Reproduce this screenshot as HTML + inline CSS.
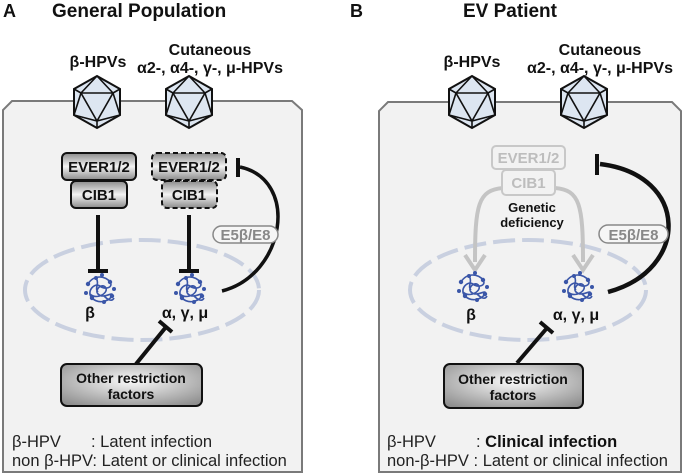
<!DOCTYPE html>
<html><head><meta charset="utf-8"><style>
html,body{margin:0;padding:0;background:#fff;}
svg{display:block;font-family:"Liberation Sans",Arial,sans-serif;}
</style></head><body>
<svg width="685" height="474" viewBox="0 0 685 474" xmlns="http://www.w3.org/2000/svg">
<defs>
<linearGradient id="g" x1="0" y1="0" x2="0" y2="1"><stop offset="0" stop-color="#8a8a8a"/><stop offset="0.5" stop-color="#f4f4f4"/><stop offset="1" stop-color="#8a8a8a"/></linearGradient>
<radialGradient id="rg" cx="0.5" cy="0.4" r="0.7"><stop offset="0" stop-color="#fafafa"/><stop offset="1" stop-color="#8f8f8f"/></radialGradient>
<g id="vir">
<polygon points="0,-26 23,-13 23,13 0,26 -23,13 -23,-13" fill="#dde6f1" stroke="#111" stroke-width="2"/>
<path d="M-16,-9 L16,-9 L0,19 Z M0,-26 L-16,-9 M0,-26 L16,-9 M-16,-9 L-23,-13 M-16,-9 L-23,13 M16,-9 L23,-13 M16,-9 L23,13 M0,19 L0,26 M0,19 L-23,13 M0,19 L23,13" fill="none" stroke="#111" stroke-width="1.6"/>
</g>
<g id="dna" fill="none" stroke="#3a56a8" stroke-width="1.6">
<path d="M-12,-6 C-6,-16 6,-14 10,-8 C14,-2 4,0 0,-4 C-6,-8 -14,2 -8,8 C-2,14 8,12 12,6 C14,0 4,10 -2,4 C-6,0 2,-8 6,-2 C8,4 -4,10 -10,4 M-4,-12 C0,-6 -6,-2 -2,2 M4,6 C8,10 12,12 14,8"/>
<g fill="#3a56a8" stroke="none"><circle cx="-12" cy="-6" r="2.2"/><circle cx="10" cy="-8" r="2.2"/><circle cx="-8" cy="8" r="2.2"/><circle cx="12" cy="6" r="2.2"/><circle cx="-4" cy="-12" r="2"/><circle cx="4" cy="12" r="2"/><circle cx="-14" cy="3" r="2"/><circle cx="14" cy="-1" r="2"/><circle cx="2" cy="-15" r="2"/></g>
</g>
</defs>

<!-- Panel A -->
<text x="3" y="17" font-size="18" font-weight="bold" fill="#111">A</text>
<text x="52" y="17" font-size="19" font-weight="bold" fill="#111">General Population</text>
<path d="M12,101 L292,101 L302,110 L302,472 L3,472 L3,110 Z" fill="#f2f2f2" stroke="#7a7a7a" stroke-width="2"/>
<text x="98" y="67" font-size="16" font-weight="bold" text-anchor="middle" fill="#111">β-HPVs</text>
<text x="210" y="55" font-size="16" font-weight="bold" text-anchor="middle" fill="#111">Cutaneous</text>
<text x="210" y="73" font-size="16" font-weight="bold" text-anchor="middle" fill="#111">α2-, α4-, γ-, μ-HPVs</text>
<use href="#vir" x="97" y="102"/>
<use href="#vir" x="189" y="102"/>

<rect x="62" y="153" width="74" height="27" rx="5" fill="url(#g)" stroke="#111" stroke-width="2"/>
<text x="99" y="172" font-size="15" font-weight="bold" text-anchor="middle" fill="#111">EVER1/2</text>
<rect x="71" y="181" width="56" height="27" rx="5" fill="url(#g)" stroke="#111" stroke-width="2"/>
<text x="99" y="200" font-size="15" font-weight="bold" text-anchor="middle" fill="#111">CIB1</text>
<rect x="152" y="153" width="74" height="27" rx="5" fill="url(#g)" stroke="#111" stroke-width="2" stroke-dasharray="5,3"/>
<text x="189" y="172" font-size="15" font-weight="bold" text-anchor="middle" fill="#111">EVER1/2</text>
<rect x="162" y="181" width="55" height="27" rx="5" fill="url(#g)" stroke="#111" stroke-width="2" stroke-dasharray="5,3"/>
<text x="189" y="200" font-size="15" font-weight="bold" text-anchor="middle" fill="#111">CIB1</text>

<ellipse cx="142" cy="290" rx="117" ry="50" fill="none" stroke="#c9d0e0" stroke-width="4" stroke-dasharray="22,7"/>
<path d="M98,215 V271 M88,271 H108 M189,215 V271 M179,271 H199" stroke="#111" stroke-width="4"/>
<path d="M222,291 C285,275 300,180 240,167" fill="none" stroke="#111" stroke-width="3.5"/>
<path d="M238,158 V177" stroke="#111" stroke-width="4"/>
<rect x="213" y="226" width="65" height="17" rx="8.5" fill="#f6f6f6" stroke="#888" stroke-width="1.5"/>
<text x="245.5" y="240" font-size="15" font-weight="bold" text-anchor="middle" fill="#888">E5β/E8</text>
<use href="#dna" x="100" y="290"/>
<use href="#dna" x="190" y="290"/>
<text x="90" y="318" font-size="16" font-weight="bold" text-anchor="middle" fill="#111">β</text>
<text x="185" y="318" font-size="16" font-weight="bold" text-anchor="middle" fill="#111">α, γ, μ</text>
<path d="M136,364 L166,327 M159,321 L172,332" stroke="#111" stroke-width="4"/>
<rect x="61" y="364" width="141" height="42" rx="6" fill="url(#rg)" stroke="#111" stroke-width="2"/>
<text x="131" y="383" font-size="14" font-weight="bold" text-anchor="middle" fill="#111">Other restriction</text>
<text x="131" y="399" font-size="14" font-weight="bold" text-anchor="middle" fill="#111">factors</text>
<text x="12" y="447" font-size="16.5" fill="#222">β-HPV</text>
<text x="91" y="447" font-size="16.5" fill="#222">: Latent infection</text>
<text x="12" y="466" font-size="16.5" fill="#222">non β-HPV: Latent or clinical infection</text>

<!-- Panel B -->
<text x="350" y="17" font-size="18" font-weight="bold" fill="#111">B</text>
<text x="510" y="17" font-size="19" font-weight="bold" text-anchor="middle" fill="#111">EV Patient</text>
<path d="M388,102 L672,102 L681,111 L681,472 L379,472 L379,111 Z" fill="#f2f2f2" stroke="#7a7a7a" stroke-width="2"/>
<text x="472" y="67" font-size="16" font-weight="bold" text-anchor="middle" fill="#111">β-HPVs</text>
<text x="600" y="55" font-size="16" font-weight="bold" text-anchor="middle" fill="#111">Cutaneous</text>
<text x="600" y="73" font-size="16" font-weight="bold" text-anchor="middle" fill="#111">α2-, α4-, γ-, μ-HPVs</text>
<use href="#vir" x="472" y="102"/>
<use href="#vir" x="584" y="102"/>

<ellipse cx="528" cy="290" rx="118" ry="50" fill="none" stroke="#c9d0e0" stroke-width="4" stroke-dasharray="22,7"/>
<path d="M503,188 C478,190 475,205 475,262 M555,188 C580,190 583,205 583,262" fill="none" stroke="#c4c4c4" stroke-width="4"/>
<path d="M465,255 L475,270 L485,255 M573,255 L583,270 L593,255" fill="none" stroke="#c4c4c4" stroke-width="4"/>
<rect x="492" y="146" width="73" height="23" rx="4" fill="#f2f2f2" stroke="#c8c8c8" stroke-width="2"/>
<text x="528.5" y="163" font-size="15" font-weight="bold" text-anchor="middle" fill="#bdbdbd">EVER1/2</text>
<rect x="502" y="170" width="53" height="25" rx="4" fill="#f2f2f2" stroke="#c8c8c8" stroke-width="2"/>
<text x="528.5" y="188" font-size="15" font-weight="bold" text-anchor="middle" fill="#bdbdbd">CIB1</text>
<text x="532" y="212" font-size="13" font-weight="bold" text-anchor="middle" fill="#111">Genetic</text>
<text x="532" y="227" font-size="13" font-weight="bold" text-anchor="middle" fill="#111">deficiency</text>
<path d="M608,292 C690,270 690,175 600,164" fill="none" stroke="#111" stroke-width="4.5"/>
<path d="M597,154 V175" stroke="#111" stroke-width="4"/>
<rect x="599" y="225" width="69" height="18" rx="9" fill="#f6f6f6" stroke="#888" stroke-width="1.5"/>
<text x="633.5" y="240" font-size="15" font-weight="bold" text-anchor="middle" fill="#888">E5β/E8</text>
<use href="#dna" x="473" y="288"/>
<use href="#dna" x="578" y="288"/>
<text x="471" y="320" font-size="16" font-weight="bold" text-anchor="middle" fill="#111">β</text>
<text x="576" y="320" font-size="16" font-weight="bold" text-anchor="middle" fill="#111">α, γ, μ</text>
<path d="M517,363 L547,328 M540,322 L553,333" stroke="#111" stroke-width="4"/>
<rect x="444" y="364" width="139" height="44" rx="6" fill="url(#rg)" stroke="#111" stroke-width="2"/>
<text x="513" y="384" font-size="14" font-weight="bold" text-anchor="middle" fill="#111">Other restriction</text>
<text x="513" y="400" font-size="14" font-weight="bold" text-anchor="middle" fill="#111">factors</text>
<text x="387" y="447" font-size="16.5" fill="#222">β-HPV</text>
<text x="476" y="447" font-size="16.5" fill="#222">: <tspan font-weight="bold" fill="#111">Clinical infection</tspan></text>
<text x="387" y="466" font-size="16.5" fill="#222">non-β-HPV : Latent or clinical infection</text>
</svg>
</body></html>
